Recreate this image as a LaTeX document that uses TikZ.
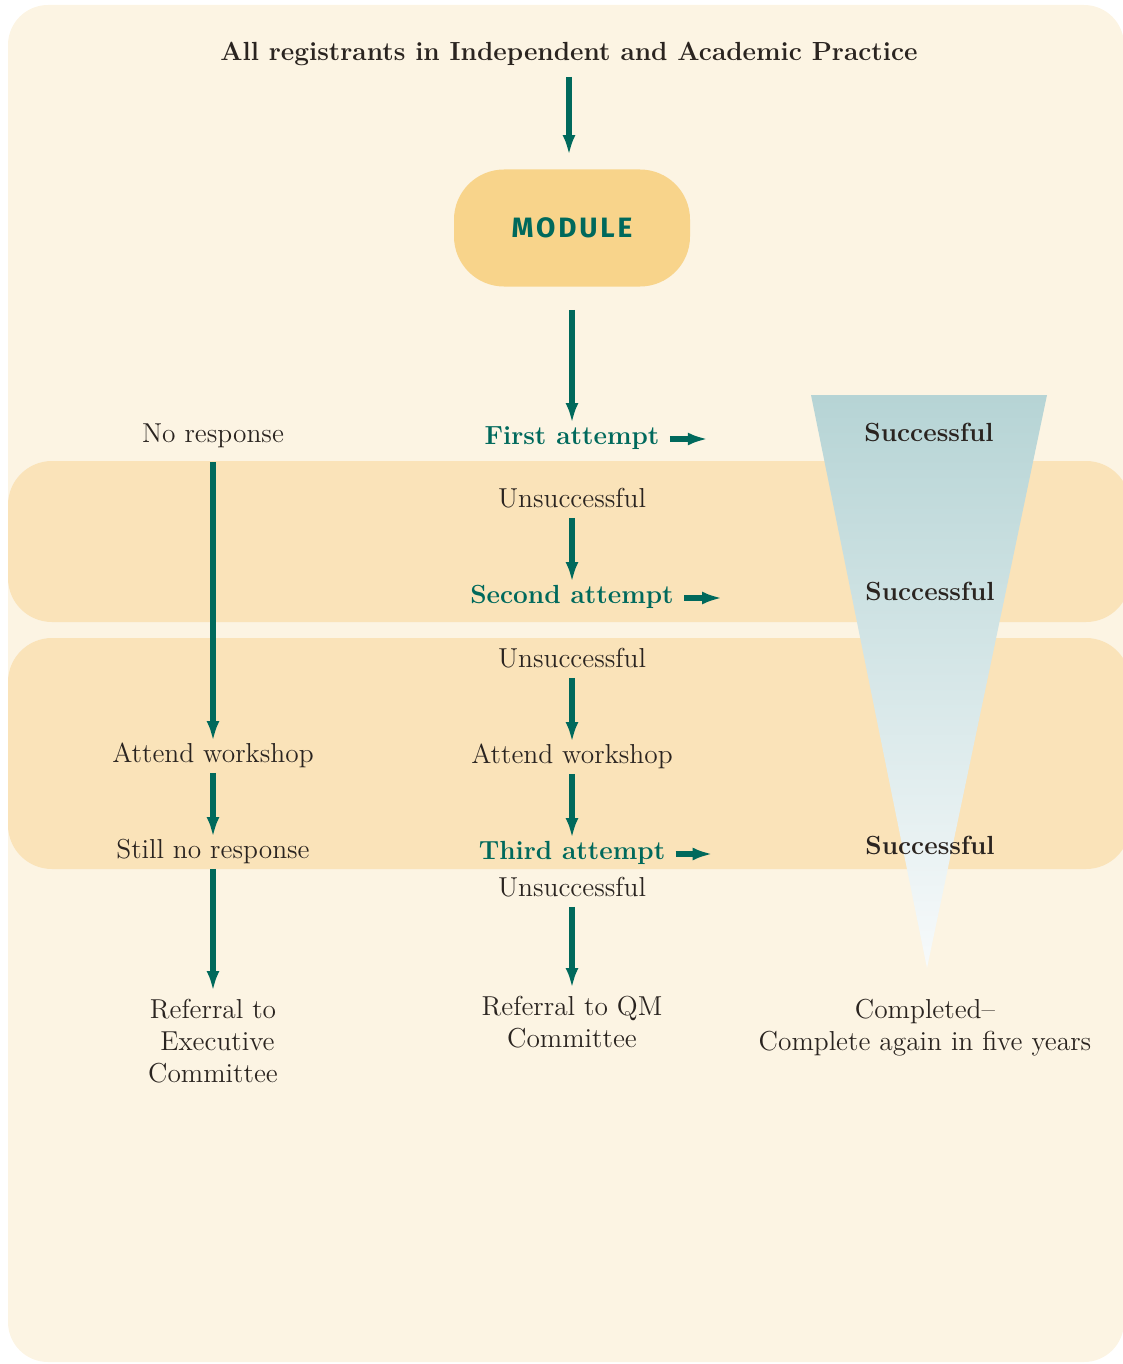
\documentclass[tikz,border=0pt]{standalone}
\usepackage{fontspec}
\newfontfamily\modfont[LetterSpace=10]{Fira Sans}
\usetikzlibrary{arrows.meta}
\definecolor{paper}{HTML}{FCF4E3}
\definecolor{bandfill}{HTML}{FAE3B9}
\definecolor{modfill}{HTML}{F8D48B}
\definecolor{flowteal}{HTML}{00695C}
\definecolor{ink}{HTML}{2A2420}
\definecolor{tritop}{HTML}{B6D4D5}
\definecolor{tribot}{HTML}{F7FAFB}
\newcommand{\fsbody}{\fontsize{13.7}{16}\selectfont}
\newcommand{\fsbold}{\fontsize{13.1}{16}\selectfont\bfseries}

\begin{document}
\begin{tikzpicture}[x=0.5pt, y=-0.5pt]
\tikzset{
  txt/.style       = {font=\fsbody, text=ink, inner sep=3pt,
                      text height=1.5ex, text depth=.25ex, yshift=-2pt},
  multi/.style     = {font=\fsbody, text=ink, inner sep=3pt,
                      align=center, anchor=north},
  attempt/.style   = {txt, font=\fsbold, text=flowteal},
  success/.style   = {txt, font=\fsbold},
  modulebox/.style = {fill=modfill, rounded corners=25pt,
                      minimum width=118pt, minimum height=58.5pt,
                      font=\modfont\bfseries\fontsize{14}{16}\selectfont,
                      text=flowteal},
  flow/.style      = {draw=flowteal, line width=2.6pt,
                      -{Latex[length=10pt,width=6.5pt]},
                      shorten <=1pt, shorten >=1pt},
  band/.style      = {fill=bandfill, rounded corners=22pt}
}
  \useasboundingbox (0,0) rectangle (1123,1364);
  % backgrounds
  \fill[paper, rounded corners=20pt] (8,5) rectangle (1124,1362);
  \fill[band] (8,461) rectangle (1130,622);
  \fill[band] (8,638) rectangle (1130,869);
  \shade[top color=tritop, bottom color=tribot]
    (811,395) -- (1047,395) -- (927,968) -- cycle;

  % centre column
  \node[success] (title) at (569,51)
    {All registrants in Independent and Academic Practice};
  \node[modulebox] (module) at (572,228) {MODULE};
  \node[attempt] (first)  at (572,435) {First attempt};
  \node[txt]     (uns1)   at (572,498) {Unsuccessful};
  \node[attempt] (second) at (572,594) {Second attempt};
  \node[txt]     (uns2)   at (572,658) {Unsuccessful};
  \node[txt]     (attC)   at (572,754) {Attend workshop};
  \node[attempt] (third)  at (572,850) {Third attempt};
  \node[txt]     (uns3)   at (572,887) {Unsuccessful};
  \node[multi]   (refQM)  at (572,990) {Referral to QM\\Committee};

  % left column
  \node[txt]   (nores)  at (213,433) {No response};
  \node[txt]   (attL)   at (213,753) {Attend workshop};
  \node[txt]   (stillL) at (213,849) {Still no response};
  \node[multi] (refEx)  at (213,993) {Referral to\\\ Executive\\Committee};

  % right column
  \node[success] (succ1) at (929,432) {Successful};
  \node[success] (succ2) at (930,591) {Successful};
  \node[success] (succ3) at (930,845) {Successful};
  \node[multi]   (done)  at (925,993) {Completed--\\Complete again in five years};

  % connectors
  \draw[flow, shorten <=4pt, shorten >=7pt] (title.south) -- (title.south |- module.north);
  \draw[flow, shorten <=11.5pt] (module) -- (first);
  \foreach \a/\b in {uns1/second, uns2/attC, attC/third, uns3/refQM,
                     attL/stillL, stillL/refEx}
    \draw[flow] (\a) -- (\b);
  \draw[flow, shorten <=5.5pt] (nores) -- (attL);
  \foreach \n/\d in {first/22, second/22, third/21.5} {
    \coordinate (\n-go) at ([xshift=\d pt]\n.east);
    \draw[flow, shorten <=2pt] (\n) -- (\n-go);
  }
\end{tikzpicture}
\end{document}
